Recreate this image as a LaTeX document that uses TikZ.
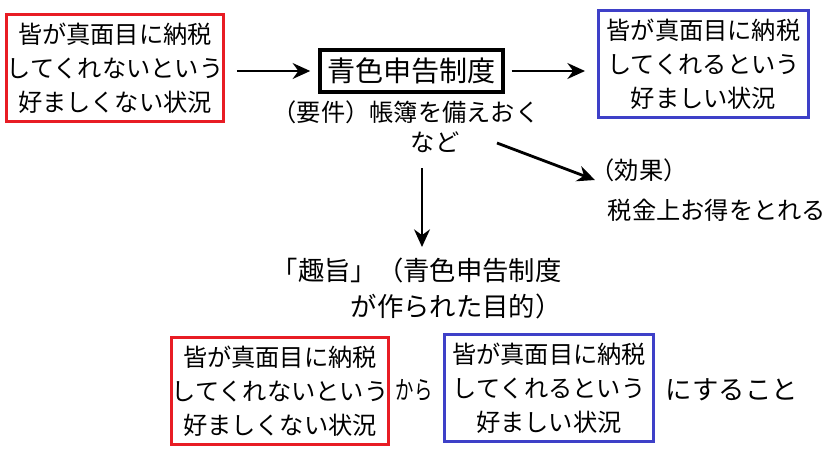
\documentclass[tikz,border=0pt]{standalone}
\usepackage{fontspec}
\setmainfont{Noto Sans CJK JP}
\usepackage{xcolor}
\usetikzlibrary{positioning,calc,arrows.meta}

\definecolor{badred}{RGB}{232,28,36}
\definecolor{goodblue}{RGB}{62,64,200}
\tikzset{
  jp/.style={font=\fontsize{13.8pt}{19.3pt}\selectfont},
  jpbig/.style={font=\fontsize{15pt}{20.5pt}\selectfont},
  statebox/.style={jp, draw, line width=1.7pt, align=center, inner sep=0pt,
    minimum width=4.2cm, minimum height=2.14cm},
  lbl/.style={jp, inner sep=0pt},
  arr/.style={-{Stealth[length=10pt,width=9pt]}, line width=1.6pt},
}

\begin{document}
\begin{tikzpicture}[x=0.02cm,y=-0.02cm]
    \useasboundingbox (0,0) rectangle (826,454);
    % top row
    \node[statebox, draw=badred] (badtop) at (115,68) {皆が真面目に納税\\してくれないという\\好ましくない状況};
    \node[lbl, font=\fontsize{16pt}{20pt}\selectfont, draw, line width=2pt, minimum width=3.66cm, minimum height=0.84cm] (seido) at (411.5,71) {青色申告制度};
    \node[statebox, draw=goodblue] (goodtop) at (703.5,64) {皆が真面目に納税\\してくれるという\\好ましい状況};
    \draw[arr, shorten <=0.24cm, shorten >=0.16cm] (badtop.east |- seido.west) -- (seido.west);
    \draw[arr, shorten <=0.14cm, shorten >=0.24cm] (seido.east) -- (seido.east -| goodtop.west);
    % requirement and effect
    \node[lbl] (req) at (406,112) {（要件）帳簿を備えおく};
    \node[lbl] (nado) at (435,142) {など};
    \node[lbl] (kouka) at (639,170) {（効果）};
    \node[lbl] (tokuten) at (717,210) {税金上お得をとれる};
    \coordinate (effstart) at (497,143);
    \coordinate (effend) at (595,180);
    \draw[arr] (effstart) -- (effend);
    % purpose
    \node[lbl, jpbig, align=right, anchor=north east] (shushi) at (562,258) {「趣旨」（青色申告制度\\が作られた目的）};
    \coordinate (downstart) at (422,168);
    \draw[arr, shorten >=0.22cm] (downstart) -- (downstart |- shushi.north);
    % bottom row
    \node[statebox, draw=badred] (badbot) at (280,391) {皆が真面目に納税\\してくれないという\\好ましくない状況};
    \node[lbl, font=\fontsize{14.5pt}{19pt}\selectfont] (kara) at (414,390) {\scalebox{0.72}[1]{から}};
    \node[statebox, draw=goodblue] (goodbot) at (549,388) {皆が真面目に納税\\してくれるという\\好ましい状況};
    \node[lbl, jpbig] (koto) at (732,390) {にすること};
\end{tikzpicture}
\end{document}
